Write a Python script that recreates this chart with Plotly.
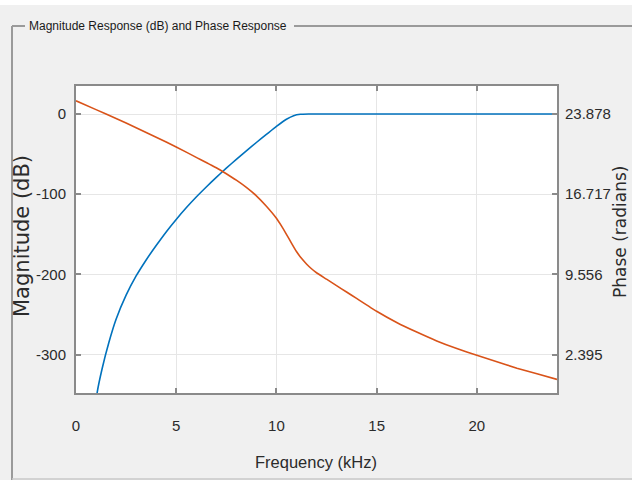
import plotly.graph_objects as go

# ---- data ----
mag_freq_khz = [1.00, 1.06, 1.3, 1.64, 2.0, 2.5, 3.0, 3.5, 4.0, 4.5, 5.0, 5.5, 6.0, 6.5, 7.0, 7.5, 8.0,
                8.5, 9.0, 9.5, 10.0, 10.5, 10.86, 11.2, 11.6, 16.0, 20.0, 24.0]
mag_db = [-362, -347, -318, -285, -256, -226, -202, -182, -164, -147, -131.5, -117, -103.5, -91, -79, -67.5, -56.5,
          -46, -35.5, -25.5, -15.5, -6.5, -2, -0.3, 0, 0, 0, 0]

phase_freq_khz = [0, 1, 2, 3, 4, 5, 6, 7, 7.5, 8, 8.5, 9, 9.5, 10, 10.25, 10.5, 10.75, 11, 11.25, 11.5, 11.75, 12,
                  12.5, 13, 13.5, 14, 15, 16, 17, 18, 19, 20, 21, 22, 23, 24]
phase_rad = [25.067, 24.272, 23.484, 22.661, 21.801, 20.942, 20.011, 19.080, 18.543, 17.970, 17.326, 16.574,
             15.643, 14.569, 13.888, 13.136, 12.349, 11.597, 10.988, 10.487, 10.057, 9.699,
             9.126, 8.553, 7.981, 7.408, 6.262, 5.259, 4.400, 3.612, 2.932, 2.323, 1.751, 1.178, 0.676, 0.175]

x_ticks = [0, 5, 10, 15, 20]
x_tick_text = ["0", "5", "10", "15", "20"]
mag_ticks = [0, -100, -200, -300]
mag_tick_text = ["0", "-100", "-200", "-300"]
phase_ticks = [2.395, 9.556, 16.717, 23.878]
phase_tick_text = ["2.395", "9.556", "16.717", "23.878"]

title_text = "Magnitude Response (dB) and Phase Response"
x_label = "Frequency (kHz)"
y_label = "Magnitude (dB)"
y2_label = "Phase (radians)"

# ---- layout geometry ----
W, H = 632, 481
L, R, T, B = 76, 557, 86, 393
pw, ph = R - L, B - T

def px(x):
    return (x - L) / pw

def py(y):
    return (B - y) / ph

mag_range = [-348, 35]
slope = (phase_ticks[3] - phase_ticks[2]) / 100.0
phase_range = [phase_ticks[3] + slope * mag_range[0], phase_ticks[3] + slope * mag_range[1]]

narrow = "Liberation Sans, Arial, sans-serif"
wide = "DejaVu Sans, Arial, sans-serif"
txt = "#2b2b2b"
axc = "#8a8a8a"

fig = go.Figure()
fig.add_trace(go.Scatter(x=mag_freq_khz, y=mag_db, mode="lines",
                         line=dict(color="#0072BD", width=1.6, shape="spline", smoothing=0.4),
                         yaxis="y", showlegend=False, hoverinfo="skip"))
fig.add_trace(go.Scatter(x=phase_freq_khz, y=phase_rad, mode="lines",
                         line=dict(color="#D95319", width=1.6, shape="spline", smoothing=0.4),
                         yaxis="y2", showlegend=False, hoverinfo="skip"))

tickfont = dict(family=narrow, size=15, color=txt)

fig.update_layout(
    width=W, height=H,
    margin=dict(l=L, r=W - R, t=T, b=H - B, pad=0),
    paper_bgcolor="#f0f0f0",
    plot_bgcolor="white",
    xaxis=dict(range=[0, 24], tickvals=x_ticks, ticktext=x_tick_text, ticks="inside", ticklen=5, tickwidth=1.5,
               tickcolor=axc, showline=True, linecolor=axc, linewidth=2, mirror="ticks",
               showgrid=True, gridcolor="#e6e6e6", gridwidth=1, zeroline=False,
               tickfont=tickfont, ticklabelstandoff=18),
    yaxis=dict(range=mag_range, tickvals=mag_ticks, ticktext=mag_tick_text, ticks="inside", ticklen=5,
               tickwidth=1.5, tickcolor=axc, showline=True, linecolor=axc, linewidth=2,
               showgrid=True, gridcolor="#e6e6e6", gridwidth=1, zeroline=False,
               tickfont=tickfont, ticklabelstandoff=5),
    yaxis2=dict(range=phase_range, tickvals=phase_ticks, ticktext=phase_tick_text, overlaying="y", side="right",
                ticks="inside", ticklen=5, tickwidth=1.5, tickcolor=axc,
                showline=True, linecolor=axc, linewidth=2, showgrid=False, zeroline=False,
                tickfont=tickfont, ticklabelstandoff=3),
)

annotations = [
    dict(text=x_label, x=px(316), y=py(462), xref="paper", yref="paper", showarrow=False,
         font=dict(family=narrow, size=16.5, color=txt), xanchor="center", yanchor="middle"),
    dict(text=y_label, x=px(22), y=py(236), xref="paper", yref="paper", showarrow=False, textangle=-90,
         font=dict(family=wide, size=21, color=txt), xanchor="center", yanchor="middle"),
    dict(text=y2_label, x=px(620), y=py(232), xref="paper", yref="paper", showarrow=False, textangle=-90,
         font=dict(family=wide, size=17, color=txt), xanchor="center", yanchor="middle", borderpad=0),
    dict(text=title_text, x=px(27), y=py(26), xref="paper", yref="paper", showarrow=False,
         font=dict(family=narrow, size=12, color="#1a1a1a"), xanchor="left", yanchor="middle"),
]
fig.update_layout(annotations=annotations)

bc = "#9a9a9a"
shapes = [
    dict(type="rect", xref="paper", yref="paper", x0=px(0), x1=px(W), y0=py(0), y1=py(5),
         fillcolor="white", line=dict(width=0), layer="below"),
    dict(type="rect", xref="paper", yref="paper", x0=px(0), x1=px(W), y0=py(480), y1=py(H),
         fillcolor="white", line=dict(width=0), layer="below"),
    dict(type="line", xref="paper", yref="paper", x0=px(12), x1=px(12), y0=py(26), y1=py(480),
         line=dict(color=bc, width=2)),
    dict(type="line", xref="paper", yref="paper", x0=px(12), x1=px(25), y0=py(26), y1=py(26),
         line=dict(color=bc, width=2)),
    dict(type="line", xref="paper", yref="paper", x0=px(294), x1=px(W), y0=py(26), y1=py(26),
         line=dict(color=bc, width=2)),
    dict(type="line", xref="paper", yref="paper", x0=px(12), x1=px(W), y0=py(479), y1=py(479),
         line=dict(color="#c8c8c8", width=1.5)),
]
fig.update_layout(shapes=shapes)

fig.write_html("out.html", config={"displayModeBar": False},
               post_script="document.body.style.margin='0';document.body.style.padding='0';")
